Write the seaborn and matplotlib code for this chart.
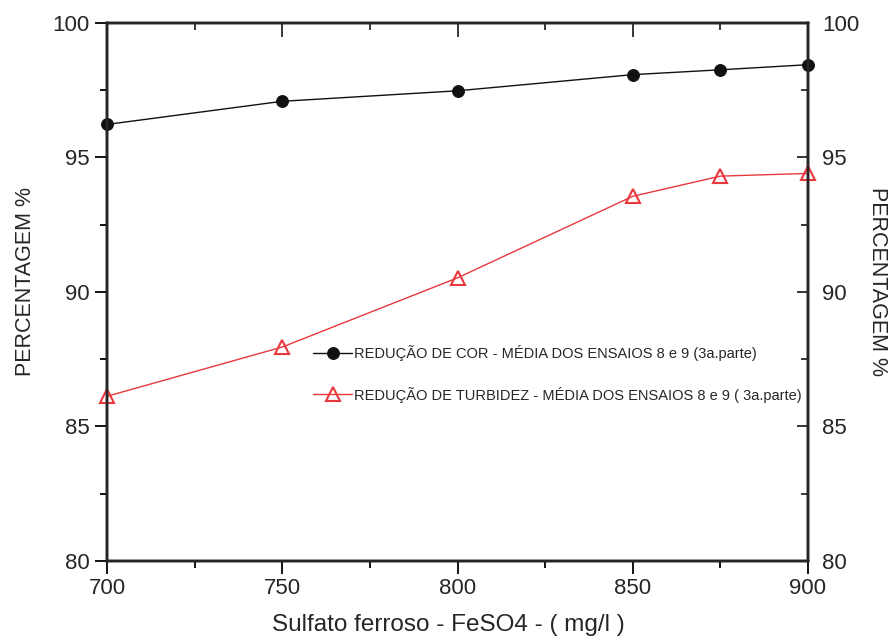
import matplotlib
matplotlib.use("Agg")
import matplotlib.pyplot as plt
import seaborn as sns
import numpy as np
import pandas as pd
from matplotlib.ticker import MultipleLocator

# Data
dose = [700, 750, 800, 850, 875, 900]
cor = [96.22, 97.08, 97.47, 98.07, 98.25, 98.44]
turbidez = [86.12, 87.95, 90.52, 93.55, 94.3, 94.4]
label_cor = "REDUÇÃO DE COR - MÉDIA DOS ENSAIOS 8 e 9 (3a.parte)"
label_turb = "REDUÇÃO DE TURBIDEZ - MÉDIA DOS ENSAIOS 8 e 9 ( 3a.parte)"
xlabel = "Sulfato ferroso - FeSO4 - ( mg/l )"
ylabel = "PERCENTAGEM %"

sns.set_style("ticks")
plt.rcParams['font.family'] = ['Liberation Sans', 'DejaVu Sans']

fig = plt.figure(figsize=(8.93, 6.38), dpi=100)
ax = fig.add_axes([107/893, 1-561/638, (808-107)/893, (561-22.7)/638])

red = "#e8383d"
sns.lineplot(x=dose, y=cor, ax=ax, color="#111111", marker="o", markersize=8.5,
             linewidth=1.0, markeredgecolor="#111111", label=label_cor,
             clip_on=False, zorder=5)
sns.lineplot(x=dose, y=turbidez, ax=ax, color=red, marker="^", markersize=9.5,
             linewidth=1.0, markerfacecolor="none", markeredgecolor=red,
             markeredgewidth=1.5, label=label_turb, clip_on=False, zorder=5)

ax.set_xlim(700, 900)
ax.set_ylim(80, 100)

ax.xaxis.set_major_locator(MultipleLocator(50))
ax.xaxis.set_minor_locator(MultipleLocator(25))
ax.yaxis.set_major_locator(MultipleLocator(5))
ax.yaxis.set_minor_locator(MultipleLocator(2.5))
ax.tick_params(which='major', direction='out', length=9, width=1.3, labelsize=16, color='black')
ax.tick_params(which='minor', direction='out', length=5, width=1.3, color='black')
ax.tick_params(axis='x', pad=3)
for s in ax.spines.values():
    s.set_visible(True)
    s.set_linewidth(1.7)
    s.set_color('black')

ax.set_xlabel(xlabel, fontsize=17.5)
ax.xaxis.set_label_coords(0.487, (561 - 625) / (561 - 22.7))
ax.xaxis.label.set_va('center')
ax.set_ylabel(ylabel, fontsize=15.5)
ax.yaxis.set_label_coords((26 - 107) / 701, 0.52)
ax.yaxis.label.set_va('center')
ax.yaxis.label.set_ha('center')

# Right axis with inward ticks
ax2 = ax.twinx()
ax2.set_ylim(80, 100)
ax2.yaxis.set_major_locator(MultipleLocator(5))
ax2.yaxis.set_minor_locator(MultipleLocator(2.5))
ax2.tick_params(which='major', direction='in', length=8, width=1.3, labelsize=16, pad=10)
ax2.tick_params(which='minor', direction='in', length=5, width=1.3)
ax2.set_ylabel(ylabel, fontsize=15.5, rotation=270)
ax2.yaxis.set_label_coords((877 - 107) / 701, 0.52)
ax2.yaxis.label.set_va('center')
ax2.yaxis.label.set_ha('center')
for s in ax2.spines.values():
    s.set_linewidth(1.7)

# Top axis with inward ticks
ax3 = ax.twiny()
ax3.set_xlim(700, 900)
ax3.xaxis.set_major_locator(MultipleLocator(50))
ax3.xaxis.set_minor_locator(MultipleLocator(25))
ax3.tick_params(which='major', direction='in', length=10, width=1.3, labeltop=False)
ax3.tick_params(which='minor', direction='in', length=5, width=1.3)
for s in ax3.spines.values():
    s.set_linewidth(1.7)

ax.legend(loc='upper left', bbox_to_anchor=(313/893, 1-345/638),
          bbox_transform=fig.transFigure, frameon=False, fontsize=10.5,
          handlelength=2.7, handletextpad=0.1, labelspacing=1.75, borderpad=0,
          borderaxespad=0)

fig.savefig("out.png", dpi=100)
